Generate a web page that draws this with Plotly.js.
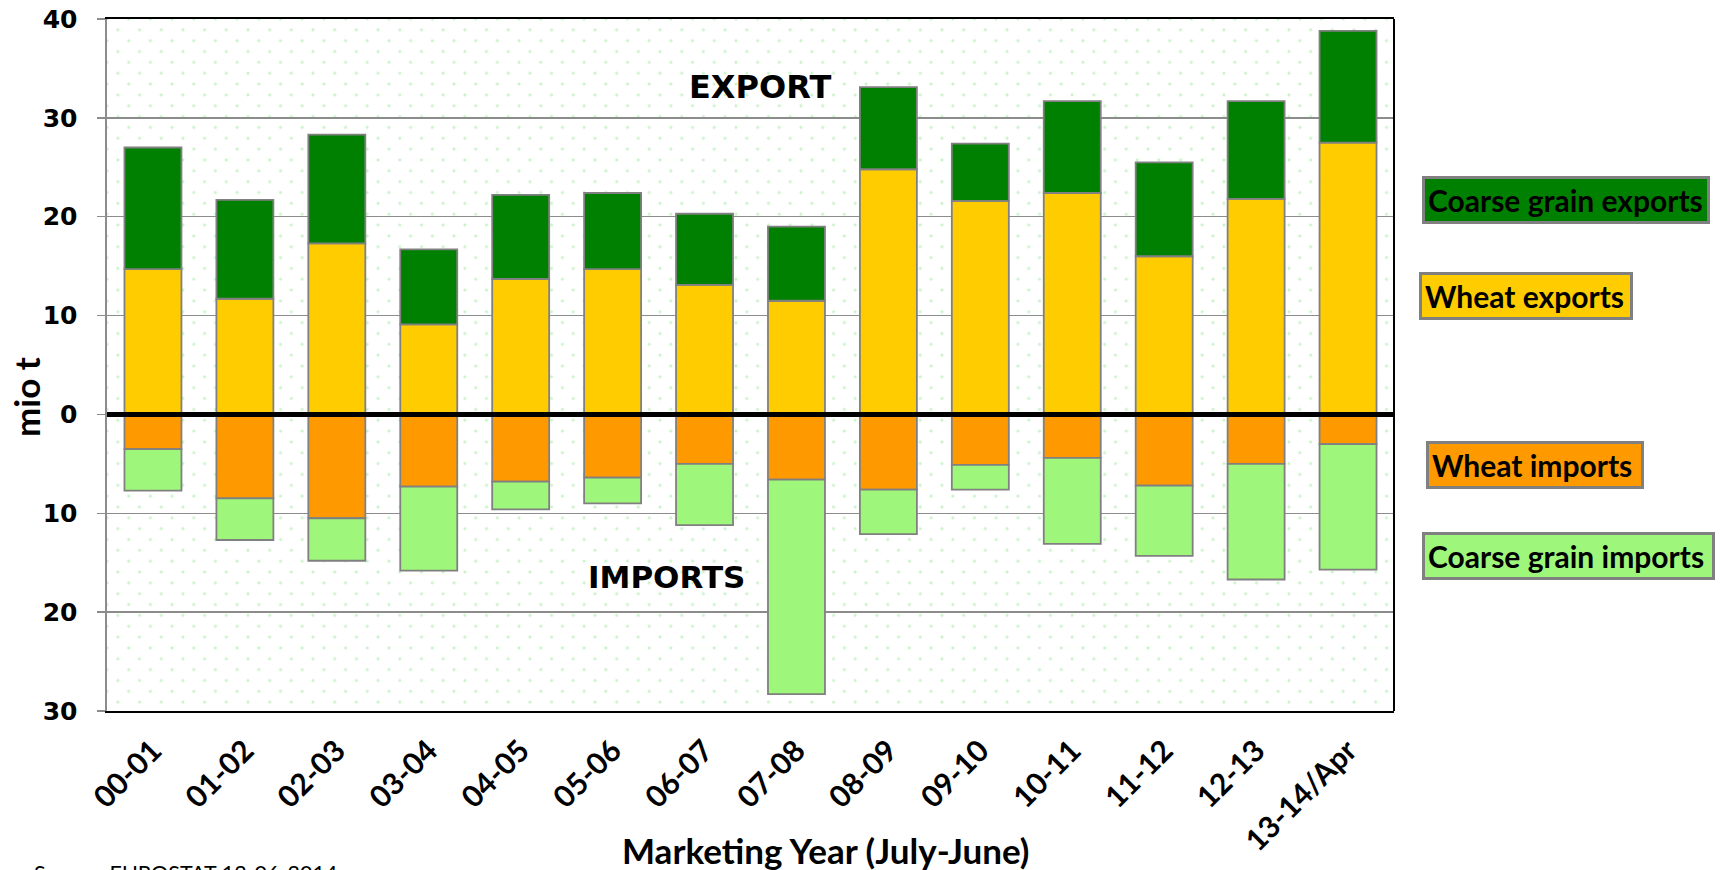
<!DOCTYPE html>
<html>
<head>
<meta charset="utf-8">
<script src="https://cdn.plot.ly/plotly-3.0.1.min.js"></script>
<style>
  html, body { margin: 0; padding: 0; background: #ffffff; }
  #wrap { position: relative; width: 1725px; height: 870px; overflow: hidden; background: #ffffff; }
  #dots {
    position: absolute; left: 107px; top: 19px; width: 1287px; height: 692px;
    background-image:
      radial-gradient(circle, #c9f3c9 1.2px, rgba(255,255,255,0) 1.8px),
      radial-gradient(circle, #c9f3c9 1.2px, rgba(255,255,255,0) 1.8px);
    background-size: 21.7px 21.7px, 21.7px 21.7px;
    background-position: 0 0, 10.85px 10.85px;
  }
  #chart { position: absolute; left: 0; top: 0; width: 1725px; height: 870px; }
</style>
</head>
<body>
<div id="wrap">
  <div id="dots"></div>
  <div id="chart"></div>
</div>
<script>
// Marketing years
const years = ["00-01","01-02","02-03","03-04","04-05","05-06","06-07","07-08","08-09","09-10","10-11","11-12","12-13","13-14/Apr"];
// Exports (mio t)
const wheatExports  = [14.7, 11.7, 17.3, 9.1, 13.7, 14.7, 13.1, 11.5, 24.8, 21.6, 22.4, 16.0, 21.8, 27.5];
const coarseExports = [12.3, 10.0, 11.0, 7.6, 8.5, 7.7, 7.2, 7.5, 8.3, 5.8, 9.3, 9.5, 9.9, 11.3];
// Imports (mio t, shown below zero)
const wheatImports  = [3.5, 8.5, 10.5, 7.3, 6.8, 6.4, 5.0, 6.6, 7.6, 5.1, 4.4, 7.2, 5.0, 3.0];
const coarseImports = [4.2, 4.2, 4.3, 8.5, 2.8, 2.6, 6.2, 21.7, 4.5, 2.5, 8.7, 7.1, 11.7, 12.7];
// Y tick labels (absolute values)
const yTickVals = [-30, -20, -10, 0, 10, 20, 30, 40];
const yTickText = ["30", "20", "10", "0", "10", "20", "30", "40"];

const outline = { color: "#808080", width: 1.8 };
const neg = a => a.map(v => -v);

const traces = [
  { type: "bar", name: "Wheat exports", x: years, y: wheatExports,
    marker: { color: "#FFCC00", line: outline } },
  { type: "bar", name: "Coarse grain exports", x: years, y: coarseExports,
    marker: { color: "#008000", line: outline } },
  { type: "bar", name: "Wheat imports", x: years, y: neg(wheatImports),
    marker: { color: "#FF9900", line: outline } },
  { type: "bar", name: "Coarse grain imports", x: years, y: neg(coarseImports),
    marker: { color: "#9EF77A", line: outline } }
];

const boldCal = { family: "Lato, 'Open Sans', sans-serif", weight: "bold", color: "#000000" };
const legendBox = (text, x, y, bg, w) => ({
  text: text, xref: "paper", yref: "paper", x: x, y: y,
  xanchor: "center", yanchor: "middle", showarrow: false,
  bgcolor: bg, bordercolor: "#808080", borderwidth: 3, borderpad: 3,
  width: w, height: 36, align: "left",
  font: Object.assign({}, boldCal, { size: 30 })
});

const layout = {
  width: 1725, height: 870,
  margin: { l: 107, r: 331, t: 19, b: 159 },
  paper_bgcolor: "rgba(0,0,0,0)",
  plot_bgcolor: "rgba(0,0,0,0)",
  barmode: "relative",
  bargap: 0.38,
  showlegend: false,
  xaxis: {
    type: "category",
    showline: true, linecolor: "#000000", linewidth: 2, mirror: true,
    ticks: "", showgrid: false, zeroline: false,
    tickangle: -45,
    ticklabelstandoff: 8,
    tickfont: { family: "Lato, 'Open Sans', sans-serif", weight: "bold", size: 30, color: "#000000" }
  },
  yaxis: {
    range: [-30, 40],
    tickvals: yTickVals, ticktext: yTickText,
    showline: true, linecolor: "#8c8c8c", linewidth: 2.5,
    ticks: "outside", ticklen: 8, tickcolor: "#8c8c8c", tickwidth: 1.5,
    ticklabelstandoff: 14,
    showgrid: true, gridcolor: "#8c8c8c", gridwidth: 1.5,
    zeroline: false,
    tickfont: { family: "'DejaVu Sans', Verdana, sans-serif", weight: "bold", size: 25, color: "#000000" }
  },
  shapes: [
    { type: "line", xref: "paper", yref: "y", x0: 0, x1: 1, y0: 0, y1: 0,
      line: { color: "#000000", width: 5 }, layer: "above" },
    { type: "line", xref: "paper", yref: "paper", x0: 1, x1: 1, y0: 0, y1: 1,
      line: { color: "#000000", width: 2 }, layer: "above" }
  ],
  annotations: [
    { text: "EXPORT", xref: "paper", yref: "paper", x: 0.507, y: 0.9017,
      xanchor: "center", yanchor: "middle", showarrow: false,
      font: { family: "'DejaVu Sans', Verdana, sans-serif", weight: "bold", size: 32, color: "#000000" } },
    { text: "IMPORTS", xref: "paper", yref: "paper", x: 0.4347, y: 0.1936,
      xanchor: "center", yanchor: "middle", showarrow: false,
      font: { family: "'DejaVu Sans', Verdana, sans-serif", weight: "bold", size: 31, color: "#000000" } },
    { text: "mio t", xref: "paper", yref: "paper", x: -0.0629, y: 0.4538,
      xanchor: "center", yanchor: "middle", showarrow: false, textangle: -90,
      font: Object.assign({}, boldCal, { size: 35 }) },
    { text: "Marketing Year (July-June)", xref: "paper", yref: "paper", x: 0.5579, y: -0.2009,
      xanchor: "center", yanchor: "middle", showarrow: false,
      font: Object.assign({}, boldCal, { size: 35 }) },
    { text: "Source: EUROSTAT 12-06-2014", xref: "paper", yref: "paper", x: -0.0583, y: -0.2124,
      xanchor: "left", yanchor: "top", showarrow: false,
      font: { family: "Lato, 'Open Sans', sans-serif", size: 21.5, color: "#000000" } },
    legendBox("Coarse grain exports", 1.1333, 0.7384, "#008000", 276),
    legendBox("Wheat exports", 1.1026, 0.5997, "#FFCC00", 202),
    legendBox("Wheat imports", 1.1092, 0.3555, "#FF9900", 206),
    legendBox("Coarse grain imports", 1.1352, 0.2247, "#9EF77A", 281)
  ]
};

Plotly.newPlot("chart", traces, layout, { displayModeBar: false, staticPlot: true });
</script>
</body>
</html>
